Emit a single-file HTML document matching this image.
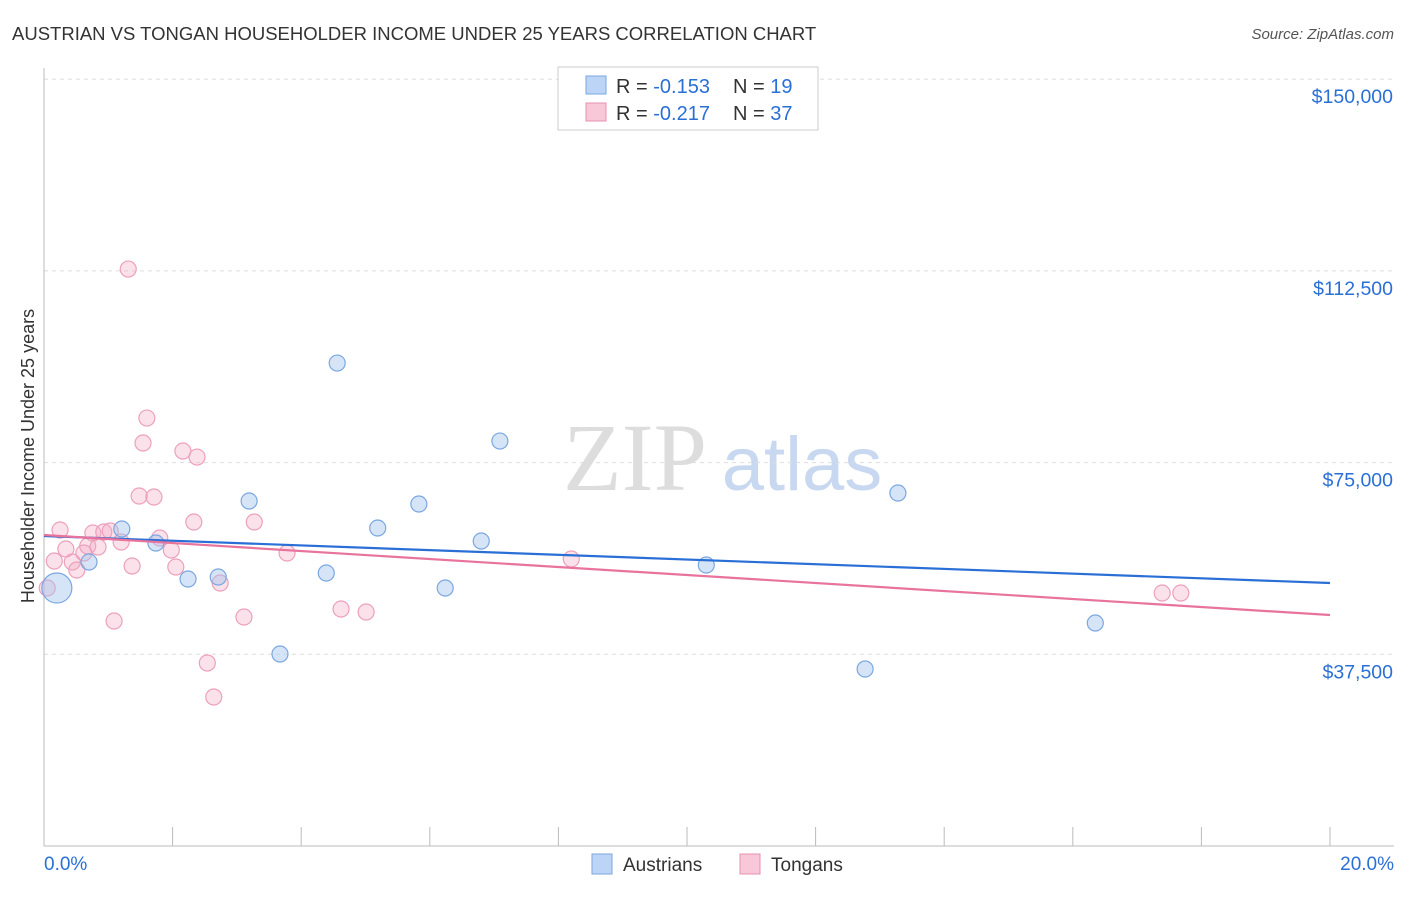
<!DOCTYPE html>
<html><head><meta charset="utf-8"><style>
body{margin:0;background:#fff;font-family:"Liberation Sans",sans-serif;}
svg text{font-family:"Liberation Sans",sans-serif;}
</style></head><body>
<svg id="chart" width="1406" height="892" viewBox="0 0 1406 892">
<text x="12" y="40" font-size="18.5" fill="#333">AUSTRIAN VS TONGAN HOUSEHOLDER INCOME UNDER 25 YEARS CORRELATION CHART</text>
<text x="1394" y="39" font-size="15" fill="#555" text-anchor="end" font-style="italic">Source: ZipAtlas.com</text>
<g>
<text x="635" y="490" font-size="96" fill="#ddd" font-family="Liberation Serif" text-anchor="middle" style="font-family:'Liberation Serif',serif">ZIP</text>
<text x="802" y="490" font-size="76" fill="#c8d8f0" text-anchor="middle">atlas</text>
</g>
<g id="grid"></g>
<g id="axes"></g>
<text transform="translate(34,456) rotate(-90)" font-size="18" fill="#333" text-anchor="middle">Householder Income Under 25 years</text>
<g id="marks"></g>
<g>
<rect x="558" y="67" width="260" height="63" fill="#fff" stroke="#ccc"/>
<rect x="586" y="76" width="20" height="18" fill="#bcd4f6" stroke="#7aa7e0"/>
<text x="616" y="93" font-size="20" fill="#333">R = <tspan fill="#2a6fd6">-0.153</tspan></text>
<text x="733" y="93" font-size="20" fill="#333">N = <tspan fill="#2a6fd6">19</tspan></text>
<rect x="586" y="103" width="20" height="18" fill="#f8c8d8" stroke="#e890b0"/>
<text x="616" y="120" font-size="20" fill="#333">R = <tspan fill="#2a6fd6">-0.217</tspan></text>
<text x="733" y="120" font-size="20" fill="#333">N = <tspan fill="#2a6fd6">37</tspan></text>
</g>
<g>
<rect x="592" y="854" width="20" height="20" fill="#bcd4f6" stroke="#7aa7e0"/>
<text x="623" y="871" font-size="19" fill="#333">Austrians</text>
<rect x="740" y="854" width="20" height="20" fill="#f8c8d8" stroke="#e890b0"/>
<text x="771" y="871" font-size="19" fill="#333">Tongans</text>
</g>
</svg>
<script>
const yTicks=[37500,75000,112500,150000];
const yTickLabels=["$37,500","$75,000","$112,500","$150,000"];
const xEndLabels=["0.0%","20.0%"];
const ausX=[0.20,0.70,1.21,1.74,2.24,2.71,3.19,3.67,4.39,4.56,5.19,5.83,6.24,6.80,7.09,10.30,12.77,13.28,16.35];
const ausY=[50465,55550,62005,59267,52225,52616,67482,37555,53399,94475,62201,66895,50465,59658,79218,54964,34621,69047,43619];
const tonX=[0.05,0.16,0.25,0.34,0.44,0.51,0.62,0.68,0.76,0.84,0.93,1.03,1.09,1.20,1.31,1.37,1.48,1.54,1.60,1.71,1.80,1.98,2.05,2.16,2.33,2.38,2.54,2.64,2.74,3.11,3.27,3.78,4.62,5.01,8.20,17.39,17.68];
const tonY=[50465,55746,61810,58093,55550,53986,57311,58680,61223,58484,61418,61614,44010,59462,112861,54768,68460,78827,83717,68264,60245,57898,54572,77262,63374,76088,35795,29144,51443,44792,63374,57311,46357,45770,56137,49487,49487];
const ausTrend=[60636,51443];
const tonTrend=[60832,45184];
const NS="http://www.w3.org/2000/svg";
const xs=v=>44+v/20*1286;
const ys=v=>846-v/37500*191.7;
function mk(tag,attrs,parent){const e=document.createElementNS(NS,tag);for(const k in attrs)e.setAttribute(k,attrs[k]);parent.appendChild(e);return e;}
const grid=document.getElementById('grid'),axes=document.getElementById('axes'),marks=document.getElementById('marks');
yTicks.forEach((t,i)=>{
 const l=mk('line',{x1:44,x2:1394,y1:ys(t),y2:ys(t),stroke:'#ddd','stroke-dasharray':'4,4'},grid);
 
 
 const tx=mk('text',{x:1393,y:ys(t)+24,'font-size':19.5,fill:'#2a6fd6','text-anchor':'end'},axes);
 tx.textContent=yTickLabels[i];
 
 
});
mk('line',{x1:44,x2:44,y1:68,y2:846,stroke:'#bbb'},axes);
mk('line',{x1:44,x2:1394,y1:846,y2:846,stroke:'#bbb'},axes);
for(let i=0;i<=10;i++){const t=mk('line',{x1:xs(i*2),x2:xs(i*2),y1:827,y2:846,stroke:'#bbb'},axes);}
const xl0=mk('text',{x:44,y:870,'font-size':19,fill:'#2a6fd6'},axes);xl0.textContent=xEndLabels[0];


const xl1=mk('text',{x:1394,y:870,'font-size':19,fill:'#2a6fd6','text-anchor':'end'},axes);xl1.textContent=xEndLabels[1];


tonX.forEach((x,i)=>{const c=mk('circle',{cx:xs(x),cy:ys(tonY[i]),r:8,fill:'rgba(244,170,196,0.35)',stroke:'#eca0bc','stroke-width':1.2},marks);
 
 });
ausX.forEach((x,i)=>{const c=mk('circle',{cx:xs(x),cy:ys(ausY[i]),r:i===0?15:8,fill:'rgba(164,196,240,0.45)',stroke:'#7aa7e0','stroke-width':1.2},marks);
 
 });
const la=mk('line',{x1:xs(0),y1:ys(ausTrend[0]),x2:xs(20),y2:ys(ausTrend[1]),stroke:'#2a6fd6','stroke-width':2.2},marks);


const lt=mk('line',{x1:xs(0),y1:ys(tonTrend[0]),x2:xs(20),y2:ys(tonTrend[1]),stroke:'#e8739c','stroke-width':2.2},marks);


</script>
</body></html>
